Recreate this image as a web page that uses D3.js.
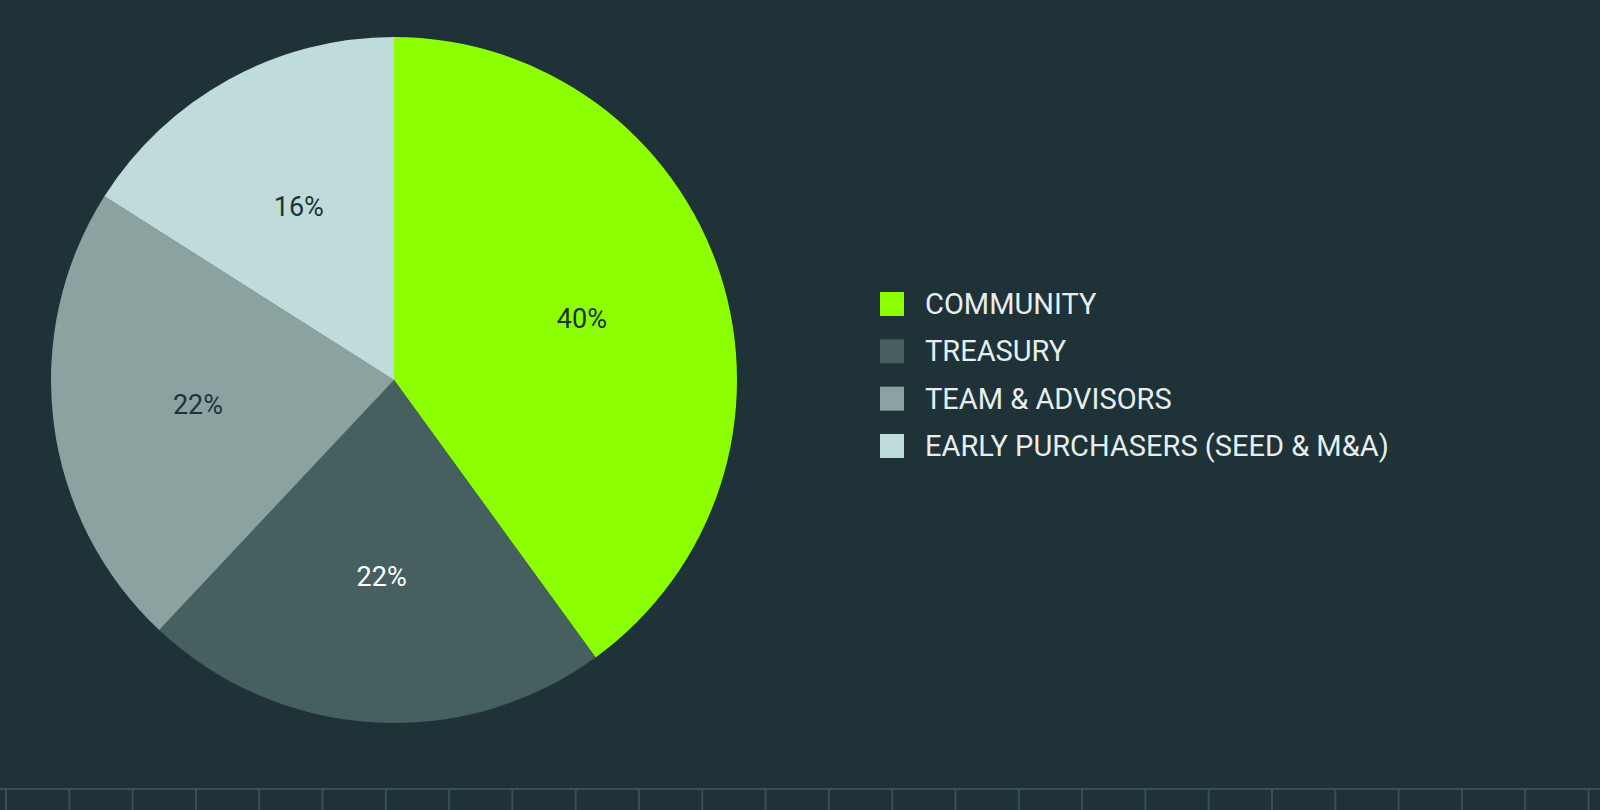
<!DOCTYPE html>
<html><head><meta charset="utf-8">
<script src="https://cdn.jsdelivr.net/npm/d3@7"></script>
<style>body{margin:0;background:#1f3238;}svg{display:block}</style>
</head><body>
<svg id="c" width="1600" height="810"></svg>
<script>
const categories = ["COMMUNITY","TREASURY","TEAM & ADVISORS","EARLY PURCHASERS (SEED & M&A)"];
const values = [40,22,22,16];
const colors = ["#8cff00","#45605f","#8aa3a1","#c0dcda"];
const labelColors = ["#1f3238","#ffffff","#1f3238","#1f3238"];

const svg = d3.select("#c");
svg.append("rect").attr("width",1600).attr("height",810).attr("fill","#1f3238");

const cx=394, cy=380, r=343;
const pie = d3.pie().sort(null).value(d=>d)(values);
const arc = d3.arc().innerRadius(0).outerRadius(r);
const lab = d3.arc().innerRadius(r*0.576).outerRadius(r*0.576);
const g = svg.append("g").attr("transform",`translate(${cx},${cy})`);
g.selectAll("path").data(pie).join("path").attr("d",arc).attr("fill",(d,i)=>colors[i]);
g.selectAll("text").data(pie).join("text")
 .attr("transform",d=>`translate(${lab.centroid(d)})`)
 .attr("text-anchor","middle").attr("dominant-baseline","central")
 .attr("font-family","Roboto, sans-serif").attr("font-size",27)
 .attr("fill",(d,i)=>labelColors[i]).text(d=>d.data+"%");

const y = d3.scalePoint().domain(categories).range([304,446]);
const lg = svg.append("g");
categories.forEach(c=>{
  lg.append("rect").attr("x",880).attr("y",y(c)-12).attr("width",24).attr("height",24).attr("fill",colors[categories.indexOf(c)]);
  lg.append("text").attr("x",925).attr("y",y(c)).attr("dominant-baseline","central")
    .attr("font-family","Roboto, sans-serif").attr("font-size",29).attr("fill","#e6eeee").text(c);
});

// bottom ruler
const x = d3.scaleLinear().domain([0,25]).range([6,6+63.3*25]);
svg.append("line").attr("x1",0).attr("x2",1600).attr("y1",789).attr("y2",789).attr("stroke","#3a4f55").attr("stroke-width",2);
svg.selectAll(".tk").data(d3.range(0,26)).join("line")
 .attr("x1",d=>x(d)).attr("x2",d=>x(d)).attr("y1",789).attr("y2",810)
 .attr("stroke","#3a4f55").attr("stroke-width",2);
</script>
</body></html>
